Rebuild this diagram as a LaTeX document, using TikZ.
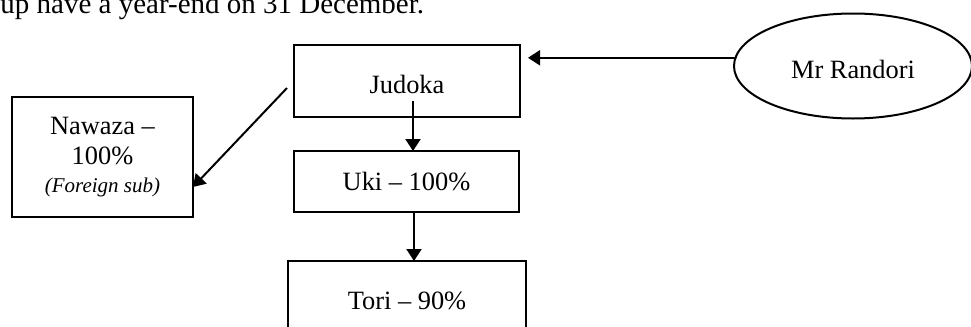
\documentclass[tikz,border=0pt]{standalone}
\usepackage{fontspec}
\setmainfont{Liberation Serif}
\usepackage{tikz}
\usetikzlibrary{arrows.meta,shapes.geometric}

\begin{document}
\begin{tikzpicture}[
    x=0.5pt, y=-0.5pt,
    box node/.style={rectangle, draw, line width=1pt, inner sep=0pt, outer sep=0pt, align=center, font=\fontsize{13.2}{15}\selectfont},
    oval node/.style={ellipse, draw, line width=1pt, inner sep=0pt, outer sep=0pt, minimum width=119pt, minimum height=52.5pt, font=\fontsize{13.2}{15}\selectfont},
    link/.style={draw, line width=1pt, -{Triangle[length=6pt, width=7.5pt]}}
  ]
  \useasboundingbox (0,0) rectangle (971,327);
  \clip (0,0) rectangle (971,327);
  \node[anchor=base west, inner sep=0pt, font=\fontsize{14.5}{17}\selectfont] (caption) at (0,13) {up have a year-end on 31 December.};
  \node[box node, minimum width=113pt, minimum height=36pt, text height=12pt, text depth=0pt] (judoka) at (407,81) {Judoka};
  \node[box node, minimum width=112.5pt, minimum height=30.5pt] (uki) at (406.5,181.5) {Uki -- 100\%};
  \node[box node, minimum width=119pt, minimum height=40pt] (tori) at (407,301) {Tori -- 90\%};
  \node[box node, minimum width=90.5pt, minimum height=60pt] (nawaza) at (102.5,157) {Nawaza --\\100\%\\[-1pt]{\fontsize{10.5}{12}\selectfont\itshape (Foreign sub)}};
  \node[oval node, text height=12pt, text depth=0pt] (randori) at (853,66) {Mr Randori};
  \coordinate (jdown) at (413,101);
  \draw[link] (randori.176.6) -- ([xshift=4pt]judoka.east |- randori.176.6);
  \draw[link] ([shift={(-7,7)}]judoka.west) -- ([shift={(0,30)}]nawaza.east);
  \draw[link] (jdown) -- (jdown |- uki.north);
  \draw[link] ([xshift=3.75pt]uki.south) -- ([xshift=3.75pt]uki.south |- tori.north);
\end{tikzpicture}
\end{document}
